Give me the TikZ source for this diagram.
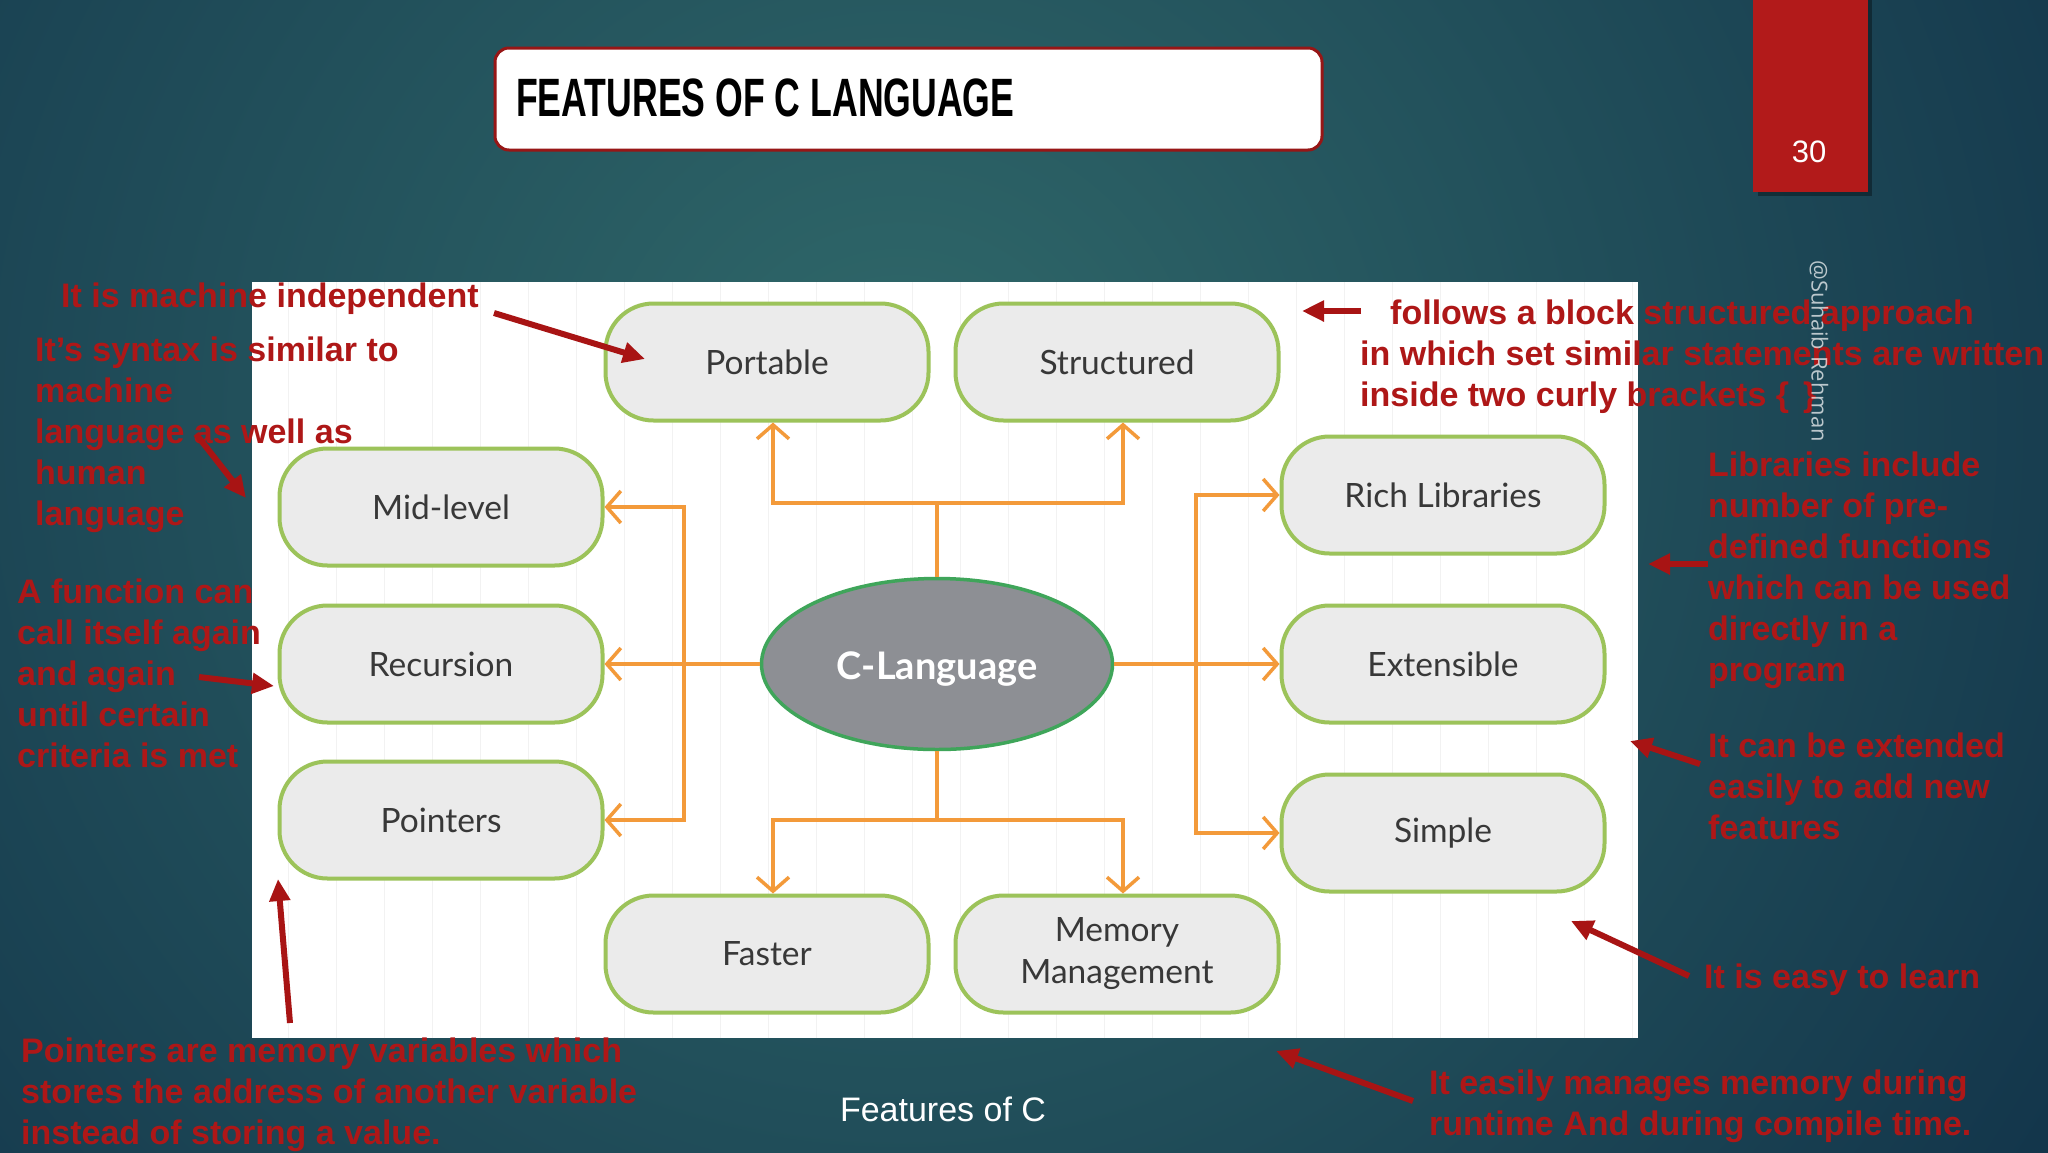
\documentclass[tikz,border=0pt]{standalone}
\usepackage{graphicx}
\usepackage{fontspec}
\setmainfont{Liberation Sans}
\newfontfamily\lato{Lato}
\newfontfamily\opens{Open Sans}
\usetikzlibrary{arrows.meta,shapes.geometric,calc}
\definecolor{bgin}{HTML}{30696A}
\definecolor{bgout}{HTML}{12344A}
\definecolor{annred}{HTML}{AE1717}
\definecolor{arrred}{HTML}{A81414}
\definecolor{orangeline}{HTML}{F39A3A}
\definecolor{boxfill}{HTML}{EBEBEB}
\definecolor{boxline}{HTML}{9CC35A}
\definecolor{ellfill}{HTML}{8D8F94}
\definecolor{ellline}{HTML}{3FA55A}
\definecolor{pagered}{HTML}{B21A1A}
\begin{document}
\begin{tikzpicture}[x=1pt,y=-1pt,
  feature/.style={draw=boxline, line width=4pt, fill=boxfill, rounded corners=48pt,
    minimum width=323pt, minimum height=117pt, inner sep=0pt,
    font=\lato\fontsize{33.5}{42}\selectfont, text=black!78, align=center},
  conn/.style={draw=orangeline, line width=3.5pt},
  connarrow/.style={conn, -{Straight Barb[length=14pt,width=32pt]}},
  note/.style={anchor=north west, inner sep=0pt, align=left, text=annred,
    font=\fontsize{34}{41}\selectfont\bfseries},
  pointer/.style={draw=arrred, line width=6pt, -{Triangle[length=22pt,width=20pt]}}
]
\useasboundingbox (0,0) rectangle (2048,1152);
% background
\begin{scope}
\clip (0,0) rectangle (2048,1152);
\shade[inner color=bgin, outer color=bgout] (900,420) circle (1400);
\end{scope}
% page number box
\fill[black, opacity=0.35] (1758,0) rectangle (1872,196);
\fill[pagered] (1753,0) rectangle (1868,192);
\node[text=white, font=\fontsize{31}{31}\selectfont] (pagenum) at (1809,152) {30};
% title
\node[draw=pagered!85!black, line width=3pt, fill=white, rounded corners=14pt,
  minimum width=827pt, minimum height=102pt, inner sep=0pt] (titlebox) at (908.5,99) {};
\node[anchor=west, inner sep=0pt] (title) at (516,98)
  {\fontsize{54}{54}\selectfont\bfseries\scalebox{0.66}[1]{FEATURES OF C LANGUAGE}};
% white panel
\fill[white] (252,282) rectangle (1638,1038);
\begin{scope}
\clip (252,282) rectangle (1638,1038);
\draw[black!5, line width=1pt] (252,282) grid[step=48] (1638,1038);
\end{scope}
% nodes
\node[feature] (portable) at (767,362) {Portable};
\node[feature] (structured) at (1117,362) {Structured};
\node[feature] (mid) at (441,507) {Mid-level};
\node[feature] (rec) at (441,664) {Recursion};
\node[feature] (ptr) at (441,820) {Pointers};
\node[feature] (rich) at (1443,495) {Rich Libraries};
\node[feature] (ext) at (1443,664) {Extensible};
\node[feature] (simple) at (1443,833) {Simple};
\node[feature] (faster) at (767,954) {Faster};
\node[feature] (memory) at (1117,954) {Memory\\Management};
\node[ellipse, draw=ellline, line width=3.5pt, fill=ellfill, minimum width=351pt,
  minimum height=171pt, inner sep=0pt, text=white, text height=36pt, text depth=6pt,
  font=\lato\bfseries\fontsize{38}{40}\selectfont] (C) at (937,664) {C-Language};
% connectors
\coordinate (tj) at (937,503);
\coordinate (bj) at (937,820);
\coordinate (lj) at (684,664);
\coordinate (rj) at (1196,664);
\draw[conn] (C.north) -- (tj);
\draw[connarrow] (tj) -| ([xshift=6pt]portable.south);
\draw[connarrow] (tj) -| ([xshift=6pt]structured.south);
\draw[conn] (C.south) -- (bj);
\draw[connarrow] (bj) -| ([xshift=6pt]faster.north);
\draw[connarrow] (bj) -| ([xshift=6pt]memory.north);
\draw[conn] (C.west) -- (lj);
\draw[connarrow] (lj) |- (mid.east);
\draw[connarrow] (lj) -- (rec.east);
\draw[connarrow] (lj) |- (ptr.east);
\draw[conn] (C.east) -- (rj);
\draw[connarrow] (rj) |- (rich.west);
\draw[connarrow] (rj) -- (ext.west);
\draw[connarrow] (rj) |- (simple.west);
% annotations
\node[note] (n1) at (61,283) {It is machine independent};
\node[note] (n2) at (35,337) {It’s syntax is similar to\\machine\\language as well as\\human\\language};
\node[note] (n3) at (17,579) {A function can\\call itself again\\and again\\until certain\\criteria is met};
\node[note] (n4) at (21,1038) {Pointers are memory variables which\\stores the address of another variable\\instead of storing a value.};
\node[note] (n5) at (1360,300) {\hspace*{30pt}follows a block structured approach\\in which set similar statements are written\\inside two curly brackets \{\hspace{14pt}\}};
\node[note] (n6) at (1708,452) {Libraries include\\number of pre-\\defined functions\\which can be used\\directly in a\\program};
\node[note] (n7) at (1708,733) {It can be extended\\easily to add new\\features};
\node[note] (n8) at (1704,964) {It is easy to learn};
\node[note] (n9) at (1429,1070) {It easily manages memory during\\runtime And during compile time.};
% annotation pointers
\coordinate (p1s) at (494,313); \coordinate (p1e) at (645,359);
\coordinate (p2s) at (196,434); \coordinate (p2e) at (246,498);
\coordinate (p3s) at (199,677); \coordinate (p3e) at (274,686);
\coordinate (p4s) at (290,1023); \coordinate (p4e) at (278,879);
\coordinate (p5s) at (1361,311); \coordinate (p5e) at (1302,311);
\coordinate (p6s) at (1708,564); \coordinate (p6e) at (1648,564);
\coordinate (p7s) at (1700,764); \coordinate (p7e) at (1630,741);
\coordinate (p8s) at (1689,976); \coordinate (p8e) at (1571,921);
\coordinate (p9s) at (1413,1101); \coordinate (p9e) at (1276,1051);
\foreach \i in {1,...,9} {\draw[pointer] (p\i s) -- (p\i e);}
% caption
\node[text=white, font=\fontsize{34}{34}\selectfont] (caption) at (943,1109) {Features of C};
% watermark
\node[rotate=-90, text=white, opacity=0.7, font=\opens\fontsize{22}{22}\selectfont] (wm) at (1819,351) {@Suhaib Rehman};
\end{tikzpicture}
\end{document}
